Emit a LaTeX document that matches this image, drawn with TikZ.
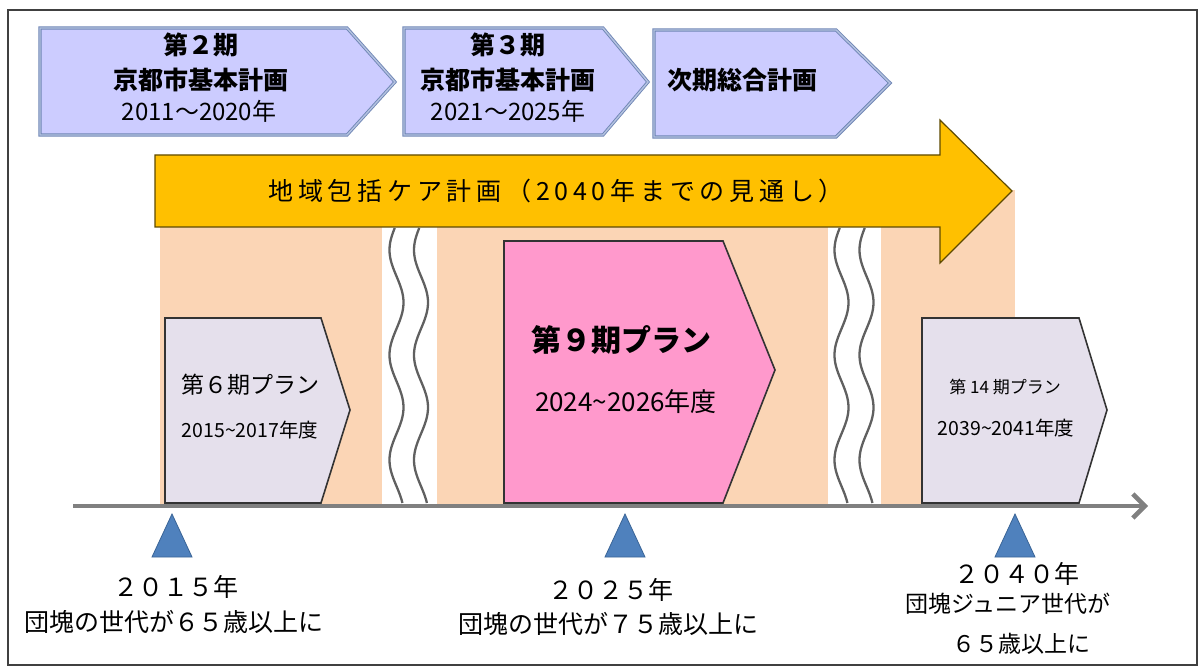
\documentclass[tikz,border=0pt]{standalone}
\usepackage{fontspec}
\setmainfont{Noto Sans CJK JP}
\usetikzlibrary{arrows.meta}
\definecolor{topfill}{HTML}{CCCCFF}
\definecolor{topdark}{HTML}{6F86B5}
\definecolor{toplight}{HTML}{B4C2E0}
\definecolor{orangefill}{HTML}{FFC000}
\definecolor{orangeline}{HTML}{5E4A00}
\definecolor{peach}{HTML}{FBD5B5}
\definecolor{planfill}{HTML}{E5E0EC}
\definecolor{pinkfill}{HTML}{FF99CC}
\definecolor{axisgray}{HTML}{808080}
\definecolor{triblue}{HTML}{4F81BD}
\definecolor{triline}{HTML}{3A6496}
\definecolor{waveline}{HTML}{606060}
\definecolor{framegray}{HTML}{404040}
\begin{document}
\begin{tikzpicture}[x=1pt,y=-1pt,
  topbox/.style={fill=topfill, draw=topdark, double=toplight, double distance=1.4pt, line width=0.9pt},
  bigarrow/.style={fill=orangefill, draw=orangeline, line width=1.2pt},
  planbox/.style={fill=planfill, draw=black!80, line width=1.6pt},
  pinkbox/.style={fill=pinkfill, draw=black!80, line width=1.6pt},
  wave/.style={draw=waveline, line width=2.3pt},
  marker/.style={fill=triblue, draw=triline, line width=0.8pt},
  axisline/.style={draw=axisgray, line width=4.5pt, -{Straight Barb[length=12pt,width=24pt]}},
  lbl/.style={inner sep=0pt, align=center, text=black},
  topb/.style={lbl, font=\fontsize{25}{28}\selectfont\bfseries},
  topn/.style={lbl, font=\fontsize{24}{28}\selectfont},
  bot/.style={lbl, font=\fontsize{25}{28}\selectfont},
  bots/.style={lbl, font=\fontsize{23}{28}\selectfont},
]
\useasboundingbox (0,0) rectangle (1203,668);
\draw[framegray, line width=1.5pt] (8,10) rectangle (1197,665);

% top plan boxes
\draw[topbox] (40,28) -- (347,28) -- (395,82) -- (347,135) -- (40,135) -- cycle;
\draw[topbox] (404,28) -- (603,28) -- (648,82) -- (603,135) -- (404,135) -- cycle;
\draw[topbox] (654,30) -- (836,30) -- (890,83) -- (836,137) -- (654,137) -- cycle;
\node[topb] (k2a) at (201,45) {第２期};
\node[topb] (k2b) at (201,80) {京都市基本計画};
\node[topn] (k2c) at (199,111) {2011～2020年};
\node[topb] (k3a) at (508,45) {第３期};
\node[topb] (k3b) at (508,80) {京都市基本計画};
\node[topn] (k3c) at (508,111) {2021～2025年};
\node[topb] (k4) at (742,80) {次期総合計画};

% peach background
\fill[peach] (160,190) rectangle (382,505);
\fill[peach] (437,190) rectangle (828,505);
\fill[peach] (881,190) rectangle (1015,505);

% wavy break lines
\foreach \cx in {396.5,421,841.5,866.5}
  \draw[wave] plot[domain=228:503, samples=120, smooth] ({\cx-7*cos((\x-250)*3.4286)}, \x);

% big orange arrow
\draw[bigarrow] (155,155) -- (940,155) -- (940,120) -- (1012,191) -- (940,263) -- (940,227) -- (155,227) -- cycle;
\node[lbl, font=\fontsize{25}{30}\selectfont\addfontfeatures{LetterSpace=19}] (care) at (556,191) {地域包括ケア計画（2040年までの見通し）};

% plan boxes
\draw[planbox] (165,318) -- (321,318) -- (350,410) -- (321,503) -- (165,503) -- cycle;
\draw[pinkbox] (504,241) -- (723,241) -- (775,370) -- (723,503) -- (504,503) -- cycle;
\draw[planbox] (922,318) -- (1079,318) -- (1107,410) -- (1079,503) -- (922,503) -- cycle;
\node[lbl, font=\fontsize{23}{26}\selectfont] (p6a) at (250,385) {第６期プラン};
\node[lbl, font=\fontsize{19.5}{24}\selectfont] (p6b) at (250,430) {2015\textasciitilde2017年度};
\node[lbl, font=\fontsize{30}{36}\selectfont\bfseries] (p9a) at (621,340) {第９期プラン};
\node[lbl, font=\fontsize{26}{30}\selectfont] (p9b) at (626,402) {2024\textasciitilde2026年度};
\node[lbl, font=\fontsize{17}{22}\selectfont] (p14a) at (1005,387) {第 14 期プラン};
\node[lbl, font=\fontsize{19.5}{24}\selectfont] (p14b) at (1006,428) {2039\textasciitilde2041年度};

% axis
\coordinate (axL) at (73,506);
\coordinate (axR) at (1148,506);
\draw[axisline] (axL) -- (axR);

% markers
\draw[marker] (172,514) -- (192,557) -- (152,557) -- cycle;
\draw[marker] (625,514) -- (645,557) -- (605,557) -- cycle;
\draw[marker] (1015,514) -- (1035,557) -- (995,557) -- cycle;

% bottom labels
\node[bot] (y15) at (176,587) {２０１５年};
\node[bot] (d15) at (174,622) {団塊の世代が６５歳以上に};
\node[bot] (y25) at (611,590) {２０２５年};
\node[bot] (d25) at (608,624) {団塊の世代が７５歳以上に};
\node[bot] (y40) at (1017,574) {２０４０年};
\node[bots] (d40a) at (1008,604) {団塊ジュニア世代が};
\node[bots] (d40b) at (1021,644) {６５歳以上に};
\end{tikzpicture}
\end{document}
